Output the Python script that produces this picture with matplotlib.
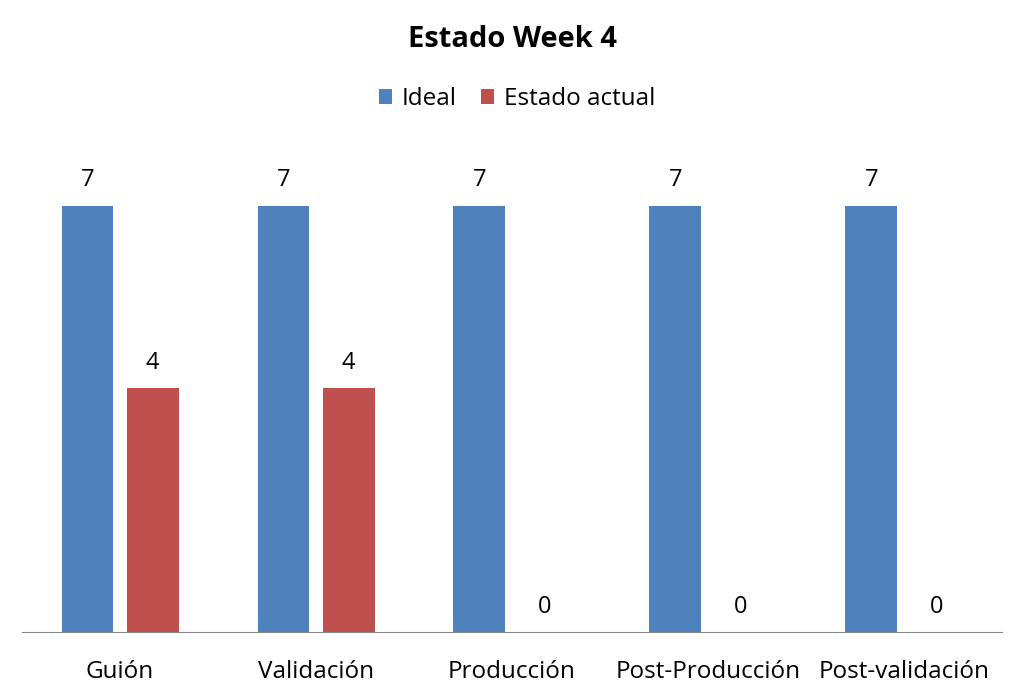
import numpy as np
import matplotlib.pyplot as plt

plt.rcParams['font.family'] = ['Open Sans', 'DejaVu Sans']

categories = ['Guión', 'Validación', 'Producción', 'Post-Producción', 'Post-validación']
ideal = [7, 7, 7, 7, 7]
actual = [4, 4, 0, 0, 0]

blue = '#4F81BD'
red = '#C0504D'

fig = plt.figure(figsize=(10.24, 6.99), dpi=100)
ax = fig.add_axes([0.0215, 0.0959, 0.957, 0.6967])

x = np.arange(len(categories))
w = 0.265
off = 0.166
b1 = ax.bar(x - off, ideal, w, color=blue, label='Ideal')
b2 = ax.bar(x + off, actual, w, color=red, label='Estado actual')

for bars, vals in [(b1, ideal), (b2, actual)]:
    for r, v in zip(bars, vals):
        ax.text(r.get_x() + r.get_width() / 2, v + 0.22, str(v),
                ha='center', va='bottom', fontsize=17)

ax.set_xlim(-0.5, len(categories) - 0.5)
ax.set_ylim(0, 8)
ax.set_yticks([])
ax.set_xticks(x)
ax.set_xticklabels(categories, fontsize=17.5)
ax.tick_params(axis='x', length=0, pad=20)
for s in ['top', 'right', 'left']:
    ax.spines[s].set_visible(False)
ax.spines['bottom'].set_color('#868686')

fig.text(0.5, 0.943, 'Estado Week 4', ha='center', va='center',
         fontsize=21, fontweight='bold')
fig.legend(handles=[b1, b2], loc='center', bbox_to_anchor=(0.505, 0.858),
           ncol=2, frameon=False, fontsize=17.5, handlelength=0.55,
           handleheight=0.55, columnspacing=1.0, handletextpad=0.4)

fig.savefig('out.png', dpi=100)
